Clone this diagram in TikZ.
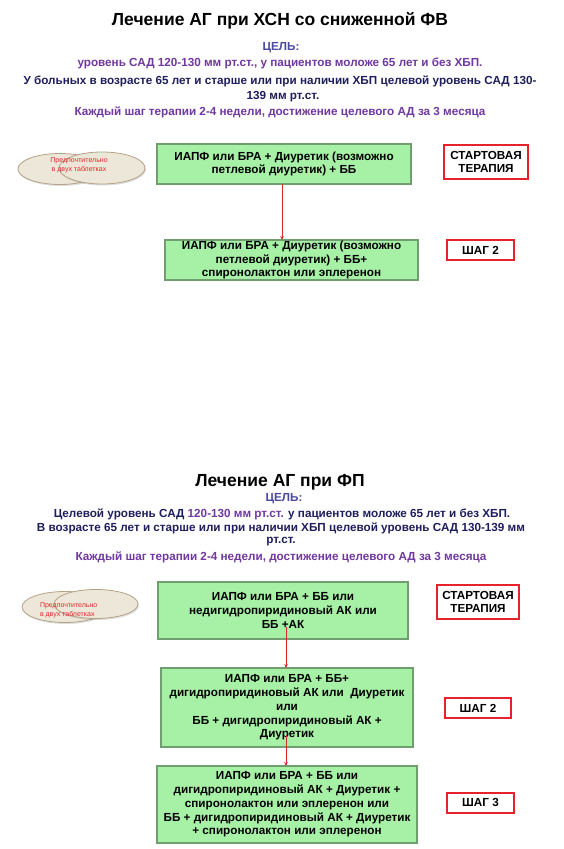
\documentclass[tikz,border=0pt]{standalone}
\usepackage{fontspec}
\setmainfont{Liberation Sans}
\usetikzlibrary{arrows.meta,shadows,shapes.geometric}
\definecolor{boxfill}{HTML}{A6F1A6}
\definecolor{boxedge}{HTML}{6F9F6F}
\definecolor{redb}{HTML}{E6222A}
\definecolor{goalc}{HTML}{4A4A9E}
\definecolor{purp}{HTML}{7038A0}
\definecolor{navy}{HTML}{1E1E5E}
\definecolor{ellfill}{HTML}{EDE7DA}
\definecolor{elledge}{HTML}{B4A286}
\definecolor{arrowc}{HTML}{D42A2A}
\definecolor{elltext}{HTML}{E02828}
\begin{document}
\begin{tikzpicture}[x=1pt,y=-1pt,
  every node/.style={inner sep=0pt,outer sep=0pt},
  stepbox/.style={draw=boxedge,fill=boxfill,line width=1.2pt,align=center,
    font=\fontsize{11.7}{13.8}\selectfont\bfseries},
  tagbox/.style={draw=redb,fill=white,line width=2pt,align=center,
    font=\fontsize{11.7}{13.8}\selectfont\bfseries},
  titletext/.style={font=\fontsize{17.5}{20}\selectfont\bfseries},
  goaltext/.style={font=\fontsize{11.7}{13}\selectfont\bfseries,align=center},
  ellshape/.style={draw=elledge,fill=ellfill,line width=0.8pt,
    drop shadow={shadow xshift=1pt,shadow yshift=-1.5pt,opacity=0.25}},
  elltxt/.style={font=\fontsize{7}{8}\selectfont,text=elltext},
  arr/.style={draw=arrowc,line width=1pt,-{Stealth[length=4pt,width=3.5pt]}}
]
\useasboundingbox[fill=white] (0,0) rectangle (563,849);

% ---------------- top section ----------------
\node[titletext] (t1) at (280,21) {Лечение АГ при ХСН со сниженной ФВ};
\node[goaltext,text=goalc] (g1) at (281,48) {ЦЕЛЬ:};
\node[goaltext,text=purp] (g2) at (280,63.5) {уровень САД 120-130 мм рт.ст., у пациентов моложе 65 лет и без ХБП.};
\node[goaltext,text=navy] (g3) at (280,81) {У больных в возрасте 65 лет и старше или при наличии ХБП целевой уровень САД 130-};
\node[goaltext,text=navy] (g4) at (283,97) {139 мм рт.ст.};
\node[goaltext,text=purp] (g5) at (280,112.5) {Каждый шаг терапии 2-4 недели, достижение целевого АД за 3 месяца};

\node[ellshape,ellipse,minimum width=84pt,minimum height=31pt] (e1a) at (60,169) {};
\node[ellshape,ellipse,minimum width=86pt,minimum height=32pt] (e1b) at (102,168) {};
\node[elltxt] (e1t1) at (79,161) {Предпочтительно};
\node[elltxt] (e1t2) at (79,170) {в двух таблетках};

\node[stepbox,minimum width=254pt,minimum height=40pt] (b1) at (284,164)
  {ИАПФ или БРА + Диуретик (возможно\\петлевой диуретик) + ББ};
\node[stepbox,minimum width=253pt,minimum height=40pt] (b2) at (291.5,260)
  {ИАПФ или БРА + Диуретик (возможно\\петлевой диуретик) + ББ+\\спиронолактон или эплеренон};
\node[tagbox,minimum width=84pt,minimum height=34pt] (s1) at (486,162) {СТАРТОВАЯ\\ТЕРАПИЯ};
\node[tagbox,minimum width=67pt,minimum height=20pt] (s2) at (480.5,250) {ШАГ 2};
\coordinate (ax1) at (282,0);
\draw[arr] (b1.south -| ax1) -- (b2.north -| ax1);

% ---------------- bottom section ----------------
\node[titletext] (t2) at (280,482) {Лечение АГ при ФП};
\node[goaltext,text=goalc] (h1) at (284,499) {ЦЕЛЬ:};
\node[goaltext,text=navy] (h2) at (282,514) {Целевой уровень САД \textcolor{purp}{120-130 мм рт.ст.} у пациентов моложе 65 лет и без ХБП.};
\node[goaltext,text=navy] (h3) at (281,528) {В возрасте 65 лет и старше или при наличии ХБП целевой уровень САД 130-139 мм};
\node[goaltext,text=navy] (h4) at (281,541.5) {рт.ст.};
\node[goaltext,text=purp] (h5) at (281,557) {Каждый шаг терапии 2-4 недели, достижение целевого АД за 3 месяца};

\node[ellshape,ellipse,minimum width=86pt,minimum height=31pt] (e2a) at (65,607) {};
\node[ellshape,ellipse,minimum width=84pt,minimum height=29pt] (e2b) at (96,604) {};
\node[elltxt,anchor=west] (e2t1) at (40,606) {Предпочтительно};
\node[elltxt,anchor=west] (e2t2) at (40,615) {в двух таблетках};

\node[stepbox,minimum width=250pt,minimum height=57pt] (c1) at (283,610.5)
  {ИАПФ или БРА + ББ или\\недигидропиридиновый АК или\\ББ +АК};
\node[stepbox,minimum width=252pt,minimum height=79pt] (c2) at (287,707.5)
  {ИАПФ или БРА + ББ+\\дигидропиридиновый АК или\ \ Диуретик\\или\\ББ + дигидропиридиновый АК +\\Диуретик};
\node[stepbox,minimum width=260pt,minimum height=77pt] (c3) at (287,804.5)
  {ИАПФ или БРА + ББ или\\дигидропиридиновый АК + Диуретик +\\спиронолактон или эплеренон или\\ББ + дигидропиридиновый АК + Диуретик\\+ спиронолактон или эплеренон};
\node[tagbox,minimum width=82pt,minimum height=34pt] (u1) at (478,602) {СТАРТОВАЯ\\ТЕРАПИЯ};
\node[tagbox,minimum width=66pt,minimum height=20pt] (u2) at (478,708) {ШАГ 2};
\node[tagbox,minimum width=67pt,minimum height=20pt] (u3) at (480.5,802.5) {ШАГ 3};

\coordinate (a1s) at (286,627);
\coordinate (a2s) at (286,735);
\draw[arr] (a1s) -- (c2.north -| a1s);
\draw[arr] (a2s) -- (c3.north -| a2s);
\end{tikzpicture}
\end{document}
